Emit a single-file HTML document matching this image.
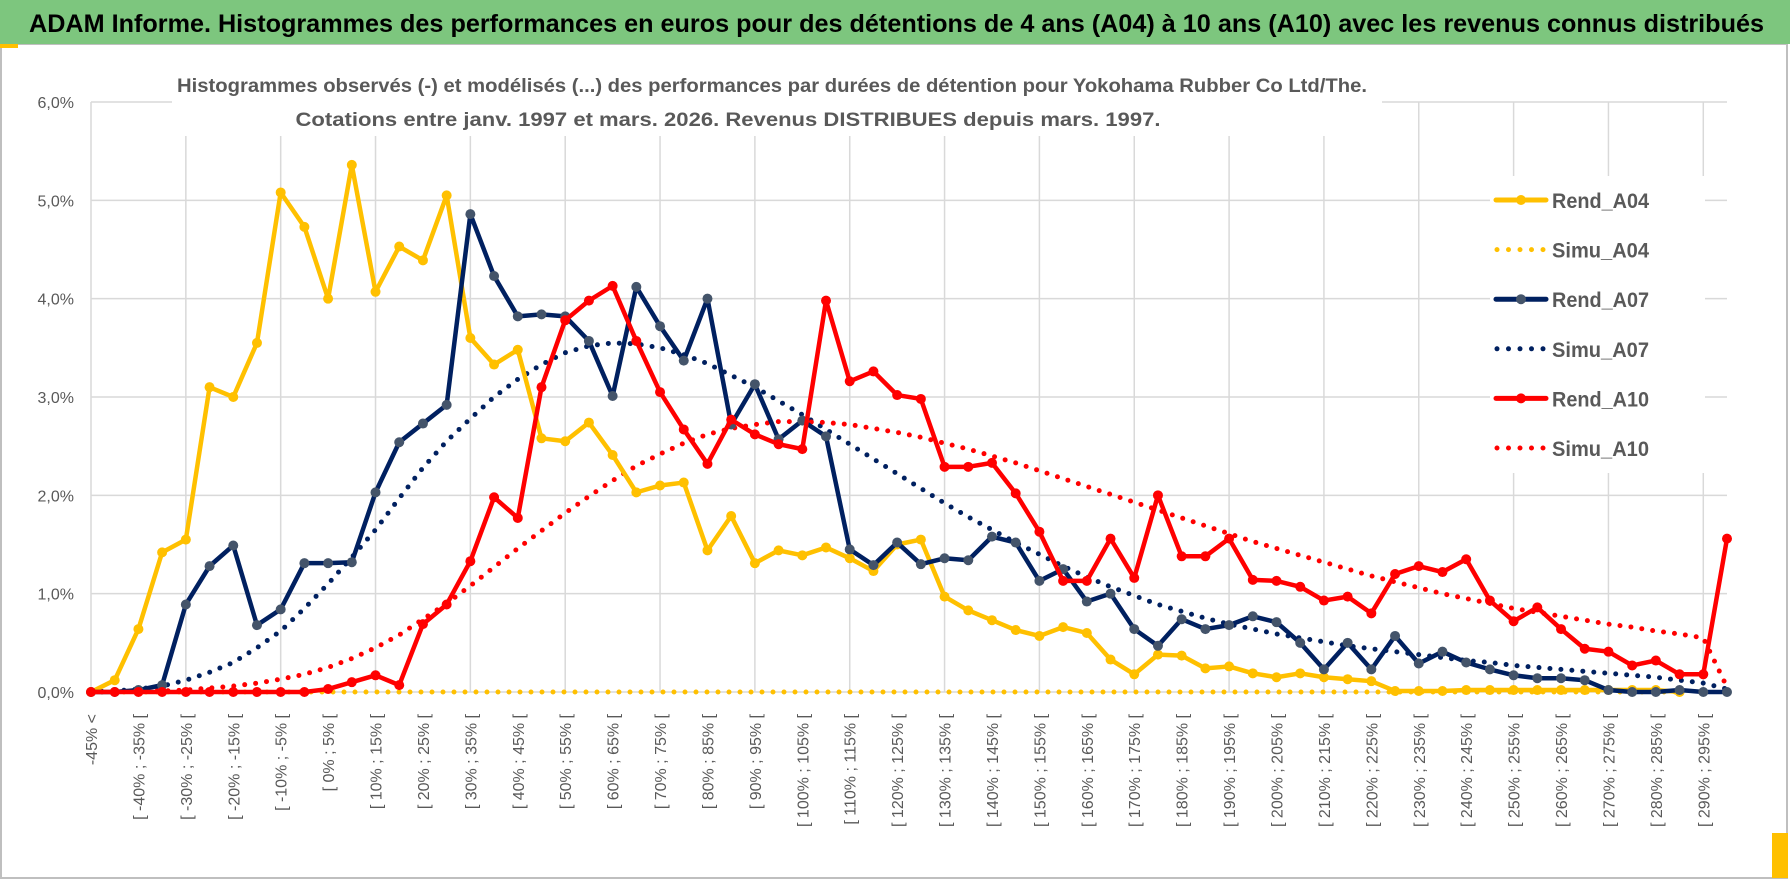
<!DOCTYPE html>
<html><head><meta charset="utf-8"><style>
html,body{margin:0;padding:0;background:#fff;}
svg{display:block;}
text{font-family:"Liberation Sans",sans-serif;}
</style></head><body>
<svg id="chart" width="1790" height="888" viewBox="0 0 1790 888" xmlns="http://www.w3.org/2000/svg">
<rect x="0" y="0" width="1790" height="888" fill="#fff"/>
<rect x="1" y="44" width="1786" height="834" fill="none" stroke="#bfbfbf" stroke-width="2"/>
<rect x="0" y="0" width="1790" height="44" fill="#7dc67e"/>
<text x="29" y="32" font-size="25" font-weight="bold" fill="#000" textLength="1735" lengthAdjust="spacingAndGlyphs">ADAM Informe. Histogrammes des performances en euros pour des détentions de 4 ans (A04) à 10 ans (A10) avec les revenus connus distribués</text>
<rect x="0" y="44" width="18" height="4" fill="#ffc000"/>
<rect x="1772" y="833" width="16" height="45" fill="#ffc000"/>
<g id="grid"></g>
<rect x="172" y="60" width="1210" height="76" fill="#fff"/>
<text x="772" y="92" font-size="19" font-weight="bold" fill="#595959" text-anchor="middle" textLength="1190" lengthAdjust="spacingAndGlyphs">Histogrammes observés (-) et modélisés (...) des performances par durées de détention pour Yokohama Rubber Co Ltd/The.</text>
<text x="728" y="126" font-size="19" font-weight="bold" fill="#595959" text-anchor="middle" textLength="865" lengthAdjust="spacingAndGlyphs">Cotations entre janv. 1997 et mars. 2026. Revenus DISTRIBUES depuis mars. 1997.</text>
<g id="yaxis"></g>
<g id="xaxis"></g>
<g id="series"></g>
<g id="legend"></g>
</svg>
<script>
const categories = ["-45% <","[ -45% ; -40% [","[ -40% ; -35% [","[ -35% ; -30% [","[ -30% ; -25% [","[ -25% ; -20% [","[ -20% ; -15% [","[ -15% ; -10% [","[ -10% ; -5% [","[ -5% ; 0% [","[ 0% ; 5% [","[ 5% ; 10% [","[ 10% ; 15% [","[ 15% ; 20% [","[ 20% ; 25% [","[ 25% ; 30% [","[ 30% ; 35% [","[ 35% ; 40% [","[ 40% ; 45% [","[ 45% ; 50% [","[ 50% ; 55% [","[ 55% ; 60% [","[ 60% ; 65% [","[ 65% ; 70% [","[ 70% ; 75% [","[ 75% ; 80% [","[ 80% ; 85% [","[ 85% ; 90% [","[ 90% ; 95% [","[ 95% ; 100% [","[ 100% ; 105% [","[ 105% ; 110% [","[ 110% ; 115% [","[ 115% ; 120% [","[ 120% ; 125% [","[ 125% ; 130% [","[ 130% ; 135% [","[ 135% ; 140% [","[ 140% ; 145% [","[ 145% ; 150% [","[ 150% ; 155% [","[ 155% ; 160% [","[ 160% ; 165% [","[ 165% ; 170% [","[ 170% ; 175% [","[ 175% ; 180% [","[ 180% ; 185% [","[ 185% ; 190% [","[ 190% ; 195% [","[ 195% ; 200% [","[ 200% ; 205% [","[ 205% ; 210% [","[ 210% ; 215% [","[ 215% ; 220% [","[ 220% ; 225% [","[ 225% ; 230% [","[ 230% ; 235% [","[ 235% ; 240% [","[ 240% ; 245% [","[ 245% ; 250% [","[ 250% ; 255% [","[ 255% ; 260% [","[ 260% ; 265% [","[ 265% ; 270% [","[ 270% ; 275% [","[ 275% ; 280% [","[ 280% ; 285% [","[ 285% ; 290% [","[ 290% ; 295% [","[ 295% ; 300% ["];
const yTicks = [0,1,2,3,4,5,6];
const yTickLabels = ["0,0%","1,0%","2,0%","3,0%","4,0%","5,0%","6,0%"];
const rendA04 = [0,0.12,0.64,1.42,1.55,3.1,3.0,3.55,5.08,4.73,4.0,5.36,4.07,4.53,4.39,5.05,3.6,3.33,3.48,2.58,2.55,2.74,2.41,2.03,2.1,2.13,1.44,1.79,1.31,1.44,1.39,1.47,1.36,1.23,1.5,1.55,0.97,0.83,0.73,0.63,0.57,0.66,0.6,0.33,0.18,0.38,0.37,0.24,0.26,0.19,0.15,0.19,0.15,0.13,0.11,0.01,0.01,0.01,0.02,0.02,0.02,0.02,0.02,0.02,0.02,0.02,0.02,0.0];
const simuA04 = [0,0,0,0,0,0,0,0,0,0,0,0,0,0,0,0,0,0,0,0,0,0,0,0,0,0,0,0,0,0,0,0,0,0,0,0,0,0,0,0,0,0,0,0,0,0,0,0,0,0,0,0,0,0,0,0,0,0,0,0,0,0,0,0,0,0,0,0];
const rendA07 = [0,0,0.02,0.07,0.89,1.28,1.49,0.68,0.84,1.31,1.31,1.32,2.03,2.54,2.73,2.92,4.86,4.23,3.82,3.84,3.82,3.57,3.01,4.12,3.72,3.37,4.0,2.72,3.13,2.57,2.76,2.6,1.45,1.29,1.52,1.3,1.36,1.34,1.58,1.52,1.13,1.25,0.92,1.0,0.64,0.47,0.74,0.64,0.68,0.77,0.71,0.5,0.23,0.5,0.23,0.57,0.29,0.41,0.3,0.23,0.17,0.14,0.14,0.12,0.02,0,0,0.02,0,0];
const simuA07 = [0,0.01,0.03,0.06,0.12,0.2,0.3,0.45,0.62,0.85,1.1,1.37,1.65,1.97,2.28,2.55,2.78,3.0,3.18,3.33,3.45,3.52,3.55,3.54,3.5,3.43,3.34,3.22,3.1,2.96,2.82,2.67,2.52,2.37,2.22,2.07,1.92,1.78,1.65,1.52,1.4,1.28,1.17,1.07,0.98,0.89,0.82,0.75,0.69,0.64,0.59,0.55,0.51,0.47,0.44,0.41,0.38,0.35,0.32,0.3,0.27,0.25,0.23,0.21,0.19,0.17,0.15,0.12,0.09,0.03];
const rendA10 = [0,0,0,0,0,0,0,0,0,0,0.03,0.1,0.17,0.07,0.69,0.89,1.33,1.98,1.77,3.1,3.78,3.98,4.13,3.57,3.05,2.67,2.32,2.77,2.62,2.52,2.47,3.98,3.16,3.26,3.02,2.98,2.29,2.29,2.33,2.02,1.63,1.13,1.13,1.56,1.16,2.0,1.38,1.38,1.56,1.14,1.13,1.07,0.93,0.97,0.8,1.2,1.28,1.22,1.35,0.93,0.72,0.86,0.64,0.44,0.41,0.27,0.32,0.18,0.18,1.56];
const simuA10 = [0,0,0.01,0.01,0.02,0.04,0.06,0.09,0.13,0.18,0.25,0.34,0.45,0.58,0.74,0.9,1.08,1.27,1.46,1.64,1.82,1.99,2.15,2.3,2.42,2.53,2.62,2.68,2.72,2.75,2.75,2.74,2.72,2.68,2.64,2.59,2.53,2.47,2.4,2.33,2.25,2.17,2.09,2.01,1.93,1.85,1.77,1.69,1.61,1.53,1.46,1.39,1.32,1.25,1.18,1.12,1.06,1.0,0.95,0.9,0.85,0.81,0.77,0.73,0.69,0.66,0.62,0.59,0.55,0.05];
const seriesNames = ["Rend_A04","Simu_A04","Rend_A07","Simu_A07","Rend_A10","Simu_A10"];

const NS = "http://www.w3.org/2000/svg";
const X0 = 91, X1 = 1727, Y0 = 692, Y6 = 102;
function xScale(i){ return X0 + i * (X1 - X0) / (categories.length - 1); }
function yScale(v){ return Y0 - v * (Y0 - Y6) / 6; }
function mk(tag, attrs, parent){ const e = document.createElementNS(NS, tag); for (const k in attrs) e.setAttribute(k, attrs[k]); parent.appendChild(e); return e; }

const grid = document.getElementById('grid');
yTicks.forEach(function(t){
  const l = mk('line', {x1: X0, x2: X1, y1: yScale(t), y2: yScale(t), stroke: '#d9d9d9', 'stroke-width': 1.5}, grid);
  
  
});
for (let i = 0; i < categories.length; i += 4) {
  const l = mk('line', {x1: xScale(i), x2: xScale(i), y1: Y6, y2: Y0, stroke: '#d9d9d9', 'stroke-width': 1.5}, grid);
  
  
}
const yax = document.getElementById('yaxis');
yTicks.forEach(function(t, i){
  const tx = mk('text', {x: 74, y: yScale(t) + 6, 'font-size': 16, fill: '#595959', 'text-anchor': 'end'}, yax);
  tx.textContent = yTickLabels[i];
  
  
});
const xax = document.getElementById('xaxis');
categories.forEach(function(c, i){
  if (i % 2 !== 0) return;
  const x = xScale(i) + 6, y = 714;
  const tx = mk('text', {x: x, y: y, 'font-size': 16, fill: '#595959', 'text-anchor': 'end', transform: 'rotate(-90 ' + x + ' ' + y + ')'}, xax);
  tx.textContent = c;
  
  
});

const ser = document.getElementById('series');
function dotted(vals, color, name){
  const pts = vals.map(function(v, i){ return xScale(i) + ',' + yScale(v); }).join(' ');
  const p = mk('polyline', {points: pts, fill: 'none', stroke: color, 'stroke-width': 5, 'stroke-linecap': 'round', 'stroke-dasharray': '0 11'}, ser);
  
  
}
function solid(vals, color, mcolor, name){
  const pts = vals.map(function(v, i){ return xScale(i) + ',' + yScale(v); }).join(' ');
  const p = mk('polyline', {points: pts, fill: 'none', stroke: color, 'stroke-width': 4.5, 'stroke-linejoin': 'round'}, ser);
  
  
  vals.forEach(function(v, i){
    const c = mk('circle', {cx: xScale(i), cy: yScale(v), r: 5, fill: mcolor}, ser);
    
    
  });
}
dotted(simuA04, '#ffc000', 'simu-a04-line');
dotted(simuA07, '#002060', 'simu-a07-line');
dotted(simuA10, '#ff0000', 'simu-a10-line');
solid(rendA04, '#ffc000', '#ffc000', 'rend-a04-line');
solid(rendA07, '#002060', '#44546a', 'rend-a07-line');
solid(rendA10, '#ff0000', '#ff0000', 'rend-a10-line');

const leg = document.getElementById('legend');
const lb = mk('rect', {x: 1490, y: 176, width: 215, height: 297, fill: '#fff'}, leg);


const legColors = ['#ffc000','#ffc000','#002060','#002060','#ff0000','#ff0000'];
const legMarker = ['#ffc000','','#44546a','','#ff0000',''];
seriesNames.forEach(function(n, i){
  const y = 200 + i * 49.6;
  const g = mk('g', {}, leg);
  
  
  if (i % 2 === 0) {
    mk('line', {x1: 1496, x2: 1546, y1: y, y2: y, stroke: legColors[i], 'stroke-width': 5, 'stroke-linecap': 'round'}, g);
    mk('circle', {cx: 1521, cy: y, r: 5, fill: legMarker[i]}, g);
  } else {
    mk('line', {x1: 1497, x2: 1546, y1: y, y2: y, stroke: legColors[i], 'stroke-width': 5, 'stroke-linecap': 'round', 'stroke-dasharray': '0 11.5'}, g);
  }
  const t = mk('text', {x: 1552, y: y + 8, 'font-size': 21, 'font-weight': 'bold', fill: '#595959', textLength: 97, lengthAdjust: 'spacingAndGlyphs'}, g);
  t.textContent = n;
});
</script>
</body></html>
